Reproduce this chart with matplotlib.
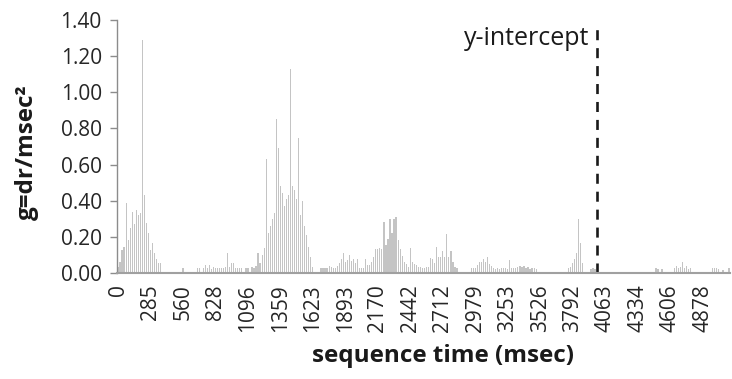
import matplotlib
matplotlib.use("Agg")
import matplotlib.pyplot as plt
import numpy as np

plt.rcParams['font.family'] = ['Open Sans', 'DejaVu Sans']

# Acceleration g = dr/msec^2 per sample; one row per labelled tick interval (16 samples)
g_values = [
    0.035, 0.06, 0.13, 0.145, 0.39, 0.18, 0.25, 0.34, 0.27, 0.35, 0.32, 0.33, 1.29, 0.43, 0.275, 0.22,
    0.13, 0.165, 0.11, 0.08, 0.055, 0.055, 0, 0, 0, 0, 0, 0, 0, 0, 0, 0,
    0.03, 0, 0, 0, 0, 0, 0, 0.03, 0.03, 0, 0.03, 0.045, 0.03, 0.045, 0.02, 0.035,
    0.03, 0.03, 0.025, 0.03, 0.03, 0.035, 0.11, 0.035, 0.055, 0.055, 0.03, 0.03, 0.025, 0.03, 0, 0.03,
    0.03, 0, 0.035, 0.03, 0.04, 0.11, 0.055, 0.10, 0.14, 0.63, 0.22, 0.26, 0.30, 0.33, 0.85, 0.69,
    0.48, 0.44, 0.37, 0.41, 0.43, 1.13, 0.48, 0.46, 0.41, 0.745, 0.32, 0.40, 0.26, 0.21, 0.145, 0.09,
    0.035, 0, 0, 0, 0.025, 0.025, 0.025, 0.03, 0.04, 0.035, 0.03, 0.025, 0.04, 0.055, 0.08, 0.11,
    0.06, 0.07, 0.10, 0.065, 0.08, 0.055, 0.08, 0.03, 0.025, 0.03, 0.08, 0.045, 0.045, 0.06, 0.09, 0.135,
    0.135, 0.14, 0.135, 0.28, 0.155, 0.19, 0.30, 0.22, 0.30, 0.31, 0.18, 0.135, 0.095, 0.06, 0.05, 0.035,
    0.14, 0.06, 0.05, 0.045, 0.035, 0.035, 0.025, 0.025, 0.035, 0.035, 0.085, 0.08, 0.055, 0.145, 0.09, 0.09,
    0.12, 0.09, 0.215, 0.09, 0.12, 0.06, 0.035, 0.025, 0, 0, 0, 0, 0, 0, 0.025, 0.025,
    0.025, 0.045, 0.06, 0.06, 0.08, 0.06, 0.09, 0.05, 0.04, 0.025, 0.02, 0.025, 0.02, 0.025, 0.025, 0.025,
    0.02, 0.07, 0.025, 0.025, 0.025, 0.035, 0.04, 0.035, 0.04, 0.03, 0.035, 0.02, 0.025, 0.025, 0.02, 0,
    0, 0, 0, 0, 0, 0, 0, 0, 0, 0, 0, 0, 0, 0, 0.025, 0.035,
    0.055, 0.08, 0.11, 0.30, 0.165, 0.055, 0, 0, 0, 0.02, 0.025, 0.02, 0, 0, 0, 0,
    0, 0, 0, 0, 0, 0, 0, 0, 0, 0, 0, 0, 0, 0, 0, 0,
    0, 0, 0, 0, 0, 0, 0, 0, 0, 0.025, 0.02, 0, 0.02, 0, 0, 0,
    0, 0, 0.025, 0.04, 0.025, 0.035, 0.06, 0.025, 0.04, 0.02, 0.025, 0, 0, 0, 0, 0,
    0, 0, 0, 0, 0, 0.025, 0.025, 0.025, 0.02, 0, 0.015, 0, 0, 0.025,
]

# Sequence time (msec) shown under every 16th sample
time_labels = ["0", "285", "560", "828", "1096", "1359", "1623", "1893", "2170",
               "2442", "2712", "2979", "3253", "3526", "3792", "4063", "4334",
               "4606", "4878"]
label_step = 16

# Sample position of the y-intercept marker
intercept_pos = 236.1

fig = plt.figure(figsize=(7.32, 3.79), dpi=100)
ax = fig.add_axes([117 / 732, 1 - 273 / 379, (730 - 117) / 732, (273 - 20) / 379])

x = np.arange(len(g_values))
ax.bar(x, g_values, width=0.6, color='#c4c4c4', linewidth=0)

ax.set_xlim(-0.5, len(g_values) - 0.5)
ax.set_ylim(0, 1.40)
yt = np.arange(0, 1.41, 0.2)
ax.set_yticks(yt)
ax.set_yticklabels([f"{v:.2f}" for v in yt])
ax.set_xticks(np.arange(len(time_labels)) * label_step)
ax.set_xticklabels(time_labels, rotation=90)

ax.tick_params(axis='y', direction='out', length=5, width=1, color='#8c8c8c',
               labelsize=15, labelcolor='#262626', pad=6)
ax.tick_params(axis='x', length=0, labelsize=15, labelcolor='#262626', pad=8)

for side in ('top', 'right'):
    ax.spines[side].set_visible(False)
ax.spines['left'].set_color('#8c8c8c')
ax.spines['left'].set_linewidth(1.0)
ax.spines['bottom'].set_color('#a0a0a0')
ax.spines['bottom'].set_linewidth(1.5)

# Dashed y-intercept marker and its label
ax.vlines(intercept_pos, 0, 1.37, colors='#1a1a1a', linewidth=1.9,
          linestyles=(0, (3.8, 3.0)))
ax.text(232, 1.262, "y-intercept", ha='right', va='baseline', fontsize=18,
        color='#1a1a1a')

ax.set_xlabel("sequence time (msec)", fontsize=17.5, fontweight='bold',
              color='#1a1a1a', va='center')
ax.xaxis.set_label_coords(0.532, -0.328)
ax.set_ylabel("g=dr/msec²", fontsize=17.5, fontweight='bold', color='#1a1a1a',
              va='center')
ax.yaxis.set_label_coords(-0.147, 0.478)

fig.savefig("out.png", dpi=100)
